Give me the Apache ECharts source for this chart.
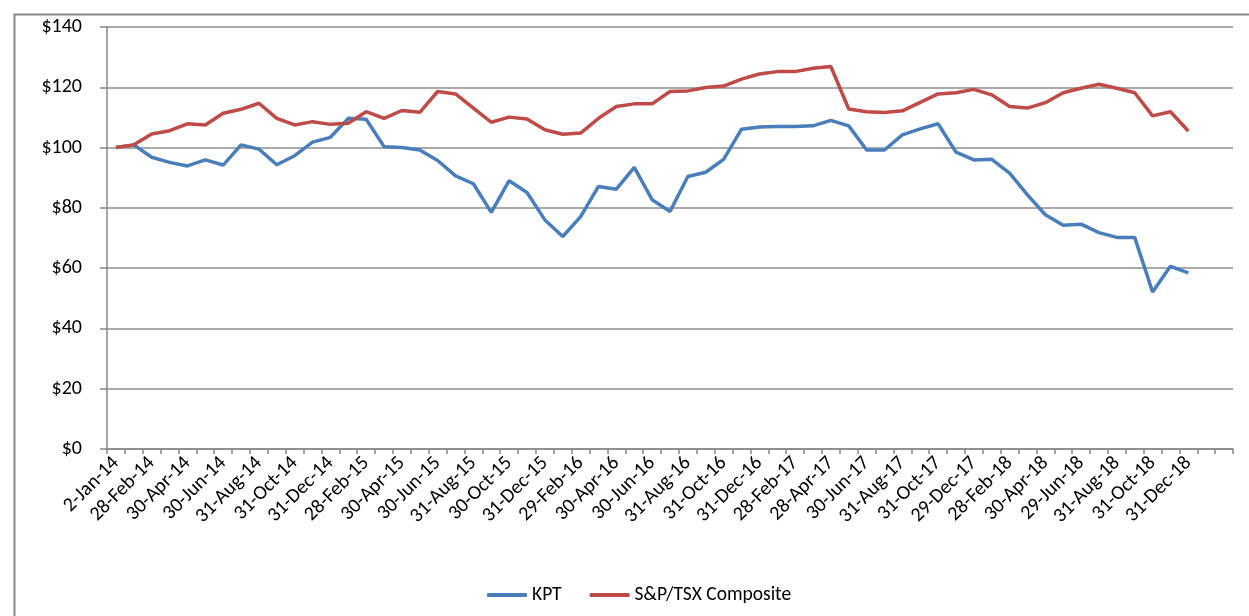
<!DOCTYPE html>
<html>
<head>
<meta charset="utf-8">
<title>KPT vs S&amp;P/TSX Composite</title>
<script src="https://cdn.jsdelivr.net/npm/echarts@6/dist/echarts.min.js"></script>
<style>
    html, body { margin: 0; padding: 0; background: #fff; }
    #myChart { width: 1249px; height: 616px; }
</style>
</head>
<body>
<div id="myChart"></div>
<script>
// month-end dates, the last two slots of the axis are empty
var dateList = [
    '2-Jan-14','31-Jan-14','28-Feb-14','31-Mar-14','30-Apr-14','30-May-14','30-Jun-14','31-Jul-14','31-Aug-14','30-Sep-14','31-Oct-14','28-Nov-14',
    '31-Dec-14','30-Jan-15','28-Feb-15','31-Mar-15','30-Apr-15','29-May-15','30-Jun-15','31-Jul-15','31-Aug-15','30-Sep-15','30-Oct-15','30-Nov-15',
    '31-Dec-15','29-Jan-16','29-Feb-16','31-Mar-16','30-Apr-16','31-May-16','30-Jun-16','29-Jul-16','31-Aug-16','30-Sep-16','31-Oct-16','30-Nov-16',
    '31-Dec-16','31-Jan-17','28-Feb-17','31-Mar-17','28-Apr-17','31-May-17','30-Jun-17','31-Jul-17','31-Aug-17','29-Sep-17','31-Oct-17','30-Nov-17',
    '29-Dec-17','31-Jan-18','28-Feb-18','30-Mar-18','30-Apr-18','31-May-18','29-Jun-18','31-Jul-18','31-Aug-18','28-Sep-18','31-Oct-18','30-Nov-18',
    '31-Dec-18','',''
];

var kptList = [
    100, 100.9, 96.8, 95.1, 93.9, 95.9, 94.2, 100.9, 99.5, 94.3, 97.3, 101.8,
    103.4, 109.7, 109.4, 100.3, 100, 99.2, 95.7, 90.6, 88, 78.5, 89, 85.1,
    76, 70.5, 77.1, 87.1, 86.2, 93.4, 82.7, 78.8, 90.4, 91.8, 96.1, 106.1,
    106.8, 107, 107, 107.2, 109, 107.2, 99.2, 99.2, 104.2, 106.2, 107.9, 98.5,
    95.9, 96.1, 91.5, 84.3, 77.7, 74.2, 74.6, 71.8, 70.2, 70.2, 52.1, 60.6,
    58.4
];

var tsxList = [
    100, 100.9, 104.5, 105.6, 107.9, 107.5, 111.4, 112.7, 114.7, 109.7, 107.5, 108.6,
    107.7, 108.1, 111.9, 109.7, 112.3, 111.7, 118.6, 117.8, 113.1, 108.4, 110.1, 109.5,
    105.9, 104.4, 104.8, 109.7, 113.6, 114.5, 114.5, 118.6, 118.8, 119.9, 120.4, 122.7,
    124.4, 125.2, 125.2, 126.3, 126.9, 112.8, 111.9, 111.6, 112.2, 115, 117.8, 118.2,
    119.3, 117.5, 113.6, 113.1, 114.9, 118.2, 119.7, 121, 119.7, 118.2, 110.5, 111.9,
    105.5
];

var seriesNames = ['KPT', 'S&P/TSX Composite'];
var seriesColors = ['#4a7ebb', '#be4b48'];
var fontName = 'Carlito, Lato, "Liberation Sans", sans-serif';

function buildEchats() {
    var myChart = echarts.init(document.getElementById('myChart'));
    var option = {
        backgroundColor: '#fff',
        animation: false,
        textStyle: { fontFamily: fontName },
        // outer frame, only top and left edges are visible
        graphic: [{
            type: 'rect',
            left: 12, top: 12,
            shape: { width: 1400, height: 800 },
            style: { fill: 'none', stroke: '#888', lineWidth: 2 }
        }],
        legend: {
            left: 482,
            top: 580,
            itemWidth: 40,
            itemHeight: 4,
            itemGap: 28,
            icon: 'roundRect',
            textStyle: { fontSize: 19.5, color: '#000', fontFamily: fontName },
            data: seriesNames
        },
        grid: {
            left: 107,
            right: 16,
            top: 27,
            bottom: 167
        },
        xAxis: [{
            type: 'category',
            boundaryGap: true,
            data: dateList,
            axisLine: { show: true, lineStyle: { color: '#888', width: 1.5 } },
            axisTick: { show: true, interval: 0, length: 5, lineStyle: { color: '#888', width: 1.5 } },
            axisLabel: {
                interval: 1,
                rotate: 45,
                margin: 11,
                fontSize: 20,
                color: '#000',
                fontFamily: fontName
            },
            splitLine: { show: false }
        }],
        yAxis: [{
            type: 'value',
            min: 0,
            max: 140,
            interval: 20,
            axisLine: { show: true, lineStyle: { color: '#888', width: 1.5 } },
            axisTick: { show: true, length: 7, lineStyle: { color: '#888', width: 1.5 } },
            axisLabel: {
                margin: 25,
                fontSize: 20,
                color: '#000',
                fontFamily: fontName,
                formatter: function (v) { return '$' + v; }
            },
            splitLine: { show: true, lineStyle: { color: '#8e8e8e', width: 1.5 } }
        }],
        series: [
            {
                name: seriesNames[0],
                type: 'line',
                showSymbol: false,
                color: seriesColors[0],
                lineStyle: { color: seriesColors[0], width: 3.5 },
                data: kptList
            },
            {
                name: seriesNames[1],
                type: 'line',
                showSymbol: false,
                color: seriesColors[1],
                lineStyle: { color: seriesColors[1], width: 3.5 },
                data: tsxList
            }
        ]
    };
    myChart.setOption(option);
}

buildEchats();
</script>
</body>
</html>
